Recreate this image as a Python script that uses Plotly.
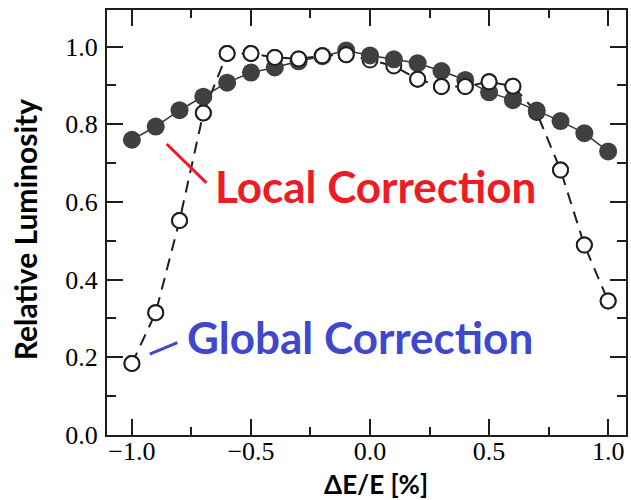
import plotly.graph_objects as go

# Energy deviation of the beam, in percent
de_over_e = [-1.0, -0.9, -0.8, -0.7, -0.6, -0.5, -0.4, -0.3, -0.2, -0.1, 0.0,
             0.1, 0.2, 0.3, 0.4, 0.5, 0.6, 0.7, 0.8, 0.9, 1.0]

# Relative luminosity with local chromaticity correction (filled circles)
local_corr = [0.760, 0.794, 0.836, 0.871, 0.907, 0.933, 0.946, 0.962, 0.975, 0.990, 0.977,
              0.967, 0.957, 0.937, 0.914, 0.882, 0.862, 0.835, 0.808, 0.777, 0.730]

# Relative luminosity with global chromaticity correction (open circles)
global_corr = [0.184, 0.315, 0.552, 0.829, 0.982, 0.982, 0.972, 0.968, 0.976, 0.979, 0.965,
               0.950, 0.916, 0.897, 0.897, 0.909, 0.898, 0.830, 0.682, 0.489, 0.345]

# Open points that sit underneath the filled markers
covered_x = [0.0, 0.1, 0.7]

x_ticks = [-1.0, -0.5, 0.0, 0.5, 1.0]
y_ticks = [0.0, 0.2, 0.4, 0.6, 0.8, 1.0]

INK = "#1e1e1e"
FILL = "#404040"
RED = "#ED1C24"
BLUE = "#3F48CC"
LABEL_FONT = "Lato"
TICK_FONT = "Liberation Serif"

W, H = 631, 500
MARGIN = dict(l=107, r=3, t=10, b=65)
PLOT_W = W - MARGIN["l"] - MARGIN["r"]
PLOT_H = H - MARGIN["t"] - MARGIN["b"]

global_top = [None if x in covered_x else g for x, g in zip(de_over_e, global_corr)]

fig = go.Figure()

# dashed curve and open markers of the global correction (lower layer)
fig.add_trace(go.Scatter(
    x=de_over_e, y=global_corr, mode="lines+markers",
    line=dict(color=INK, width=2, dash="12px,8px"),
    marker=dict(size=15, color="white", line=dict(color=INK, width=2)),
    hoverinfo="x+y", name="Global Correction",
))

# filled markers of the local correction
fig.add_trace(go.Scatter(
    x=de_over_e, y=local_corr, mode="lines+markers",
    line=dict(color="#333333", width=1.5),
    marker=dict(size=18, color=FILL, line=dict(width=0)),
    hoverinfo="x+y", name="Local Correction",
))

# open markers drawn over the filled ones where they overlap
fig.add_trace(go.Scatter(
    x=de_over_e, y=global_top, mode="markers",
    marker=dict(size=15, color="white", line=dict(color=INK, width=2)),
    hoverinfo="skip", showlegend=False,
))

axis_common = dict(
    showline=True, linecolor=INK, linewidth=2, mirror="allticks",
    ticks="inside", ticklen=16, tickwidth=1.5, tickcolor=INK,
    showgrid=False, zeroline=False, tickformat=".1f",
    tickfont=dict(family=TICK_FONT, size=26, color="black"),
)

fig.update_xaxes(
    range=[-1.1046, 1.075], tickvals=x_ticks, ticklabelstandoff=-8,
    minor=dict(dtick=0.25, tick0=0, ticks="inside", ticklen=8, tickwidth=1.5, tickcolor=INK),
    **axis_common,
)
fig.update_yaxes(
    range=[0, 1.094], tickvals=y_ticks, ticklabelstandoff=2,
    minor=dict(dtick=0.1, tick0=0, ticks="inside", ticklen=9, tickwidth=1.5, tickcolor=INK),
    **axis_common,
)


def page_x(px):
    return (px - MARGIN["l"]) / PLOT_W


def page_y(py):
    return (H - MARGIN["b"] - py) / PLOT_H


annotations = [
    dict(text="<b>ΔE/E [%]</b>", x=page_x(377), y=page_y(484),
         xref="paper", yref="paper", xanchor="center", yanchor="middle",
         showarrow=False, font=dict(family=LABEL_FONT, size=26, color="black")),
    dict(text="<b>Relative Luminosity</b>", textangle=-90, x=page_x(25), y=page_y(230),
         xref="paper", yref="paper", xanchor="center", yanchor="middle",
         showarrow=False, font=dict(family=LABEL_FONT, size=30, color="black")),
    dict(text="<b>Local Correction</b>", x=-0.661, y=0.640, xref="x", yref="y",
         xanchor="left", yanchor="middle", showarrow=False,
         font=dict(family=LABEL_FONT, size=44, color=RED)),
    dict(text="<b>Global Correction</b>", x=-0.778, y=0.252, xref="x", yref="y",
         xanchor="left", yanchor="middle", showarrow=False,
         font=dict(family=LABEL_FONT, size=44, color=BLUE)),
]

fig.update_layout(
    width=W, height=H,
    margin=MARGIN,
    paper_bgcolor="white", plot_bgcolor="white",
    showlegend=False,
    annotations=annotations,
    shapes=[
        dict(type="line", xref="x", yref="y", x0=-0.854, y0=0.749, x1=-0.687, y1=0.649,
             line=dict(color=RED, width=3)),
        dict(type="line", xref="x", yref="y", x0=-0.925, y0=0.208, x1=-0.809, y1=0.238,
             line=dict(color=BLUE, width=3)),
    ],
)

fig.write_html("out.html")
